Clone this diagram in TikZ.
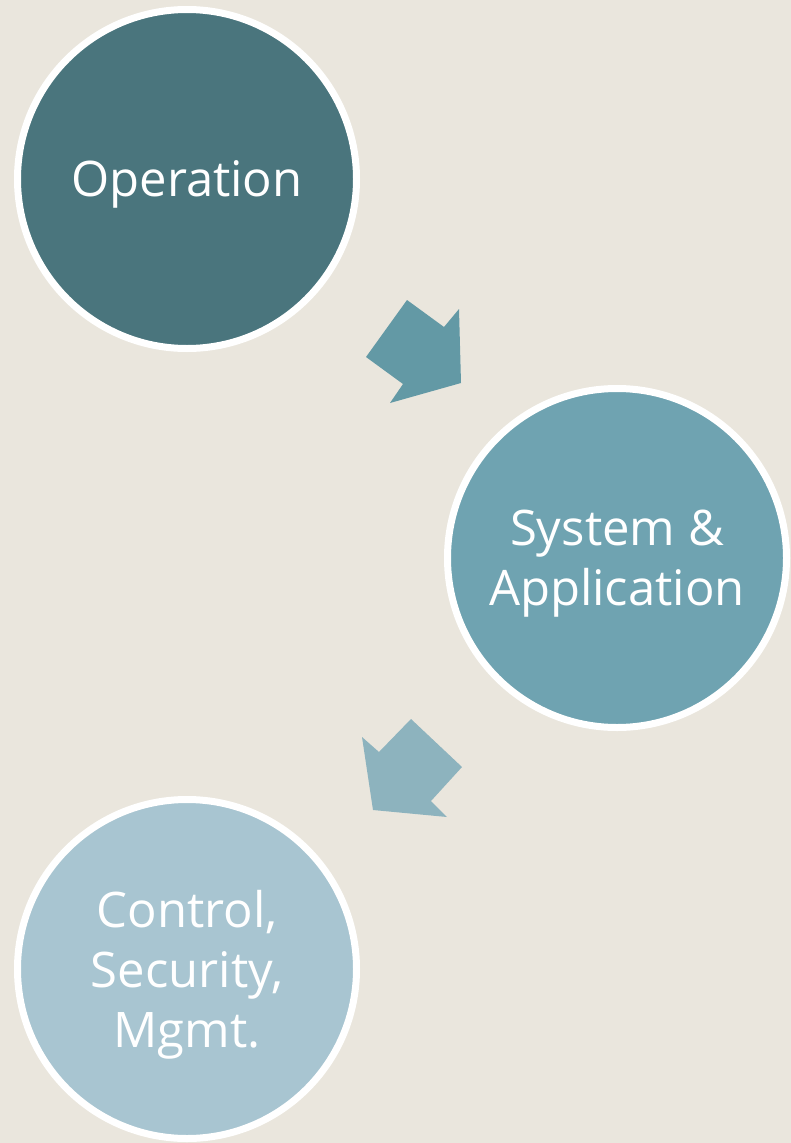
\documentclass[tikz,border=0pt]{standalone}
\usepackage{fontspec}
\setmainfont{Open Sans}
\definecolor{bg}{RGB}{234,230,221}
\definecolor{c1}{RGB}{74,117,125}
\definecolor{c2}{RGB}{111,163,177}
\definecolor{c3}{RGB}{168,197,209}
\definecolor{a1}{RGB}{99,153,165}
\definecolor{a2}{RGB}{141,179,190}
\begin{document}
\begin{tikzpicture}[x=1pt,y=-1pt]
				\tikzset{n/.style={draw=white, line width=7pt, circle, minimum size=339pt, inner sep=0pt, text=white, align=center, text depth=0pt, font=\fontsize{49}{60}\selectfont},blk/.style={line join=miter}};
				\fill[bg] (0,0) rectangle (791,1143);
				\useasboundingbox (0,0) rectangle (791,1143);
				\node[n, fill=c1] (op) at (187,179) {Operation};
				\node[n, fill=c2] (sys) at (617,558) {System \&\\Application};
				\node[n, fill=c3] (ctl) at (187,969) {Control,\\Security,\\Mgmt.};

				\fill[blk, a1] (407,300) -- (444,327) -- (459,309) -- (461,383) -- (390,403) -- (403,384) -- (366,357) -- cycle;
				\fill[blk, a2] (411,719) -- (462,767) -- (431,801) -- (447,817) -- (373,810) -- (362,737) -- (379,752) -- cycle;
			\end{tikzpicture}
\end{document}
